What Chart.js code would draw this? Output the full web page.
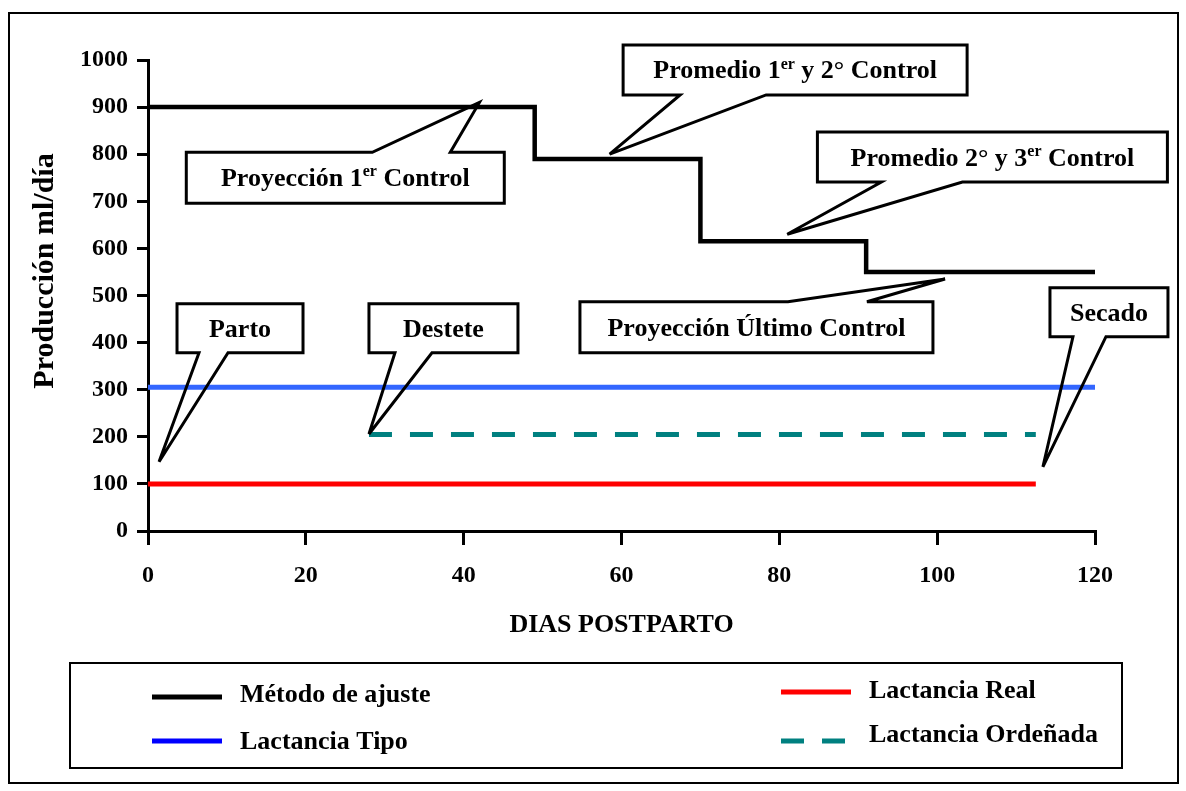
<!DOCTYPE html>
<html>
<head>
<meta charset="utf-8">
<script src="https://cdn.jsdelivr.net/npm/chart.js@4"></script>
<style>
    html, body { margin: 0; padding: 0; background: #fff; }
    canvas { display: block; }
</style>
</head>
<body>
<canvas id="lactancia" width="1186" height="791"></canvas>
<script>
// Método de ajuste (step line)
const metodoDias = [0, 49, 70, 91, 120];
const metodoMl = [900, 790, 615, 550, 550];

// Lactancia Tipo
const tipoDias = [0, 120];
const tipoMl = [305, 305];

// Lactancia Real
const realDias = [0, 112.5];
const realMl = [100, 100];

// Lactancia Ordeñada
const ordenadaDias = [28, 112.5];
const ordenadaMl = [205, 205];

const xTicks = [0, 20, 40, 60, 80, 100, 120];
const yTicks = [0, 100, 200, 300, 400, 500, 600, 700, 800, 900, 1000];

const FONT_FAMILY = '"Liberation Serif", "Times New Roman", serif';

// callouts: tip and box centre in data units, box size and tail bases in px
const callouts = [
    { text: [['Proyección 1'], ['er', true], [' Control']], tip: [42, 910], box: [25, 750], w: 318, h: 51, side: 'top', tail: [186, 264] },
    { text: [['Promedio 1'], ['er', true], [' y 2° Control']], tip: [58.5, 800], box: [82, 979], w: 344, h: 50, side: 'bottom', tail: [57, 143] },
    { text: [['Promedio 2° y 3'], ['er', true], [' Control']], tip: [81, 630], box: [107, 794], w: 350, h: 50, side: 'bottom', tail: [64, 145] },
    { text: [['Proyección Último Control']], tip: [101, 535], box: [77.1, 432.7], w: 353, h: 51, side: 'top', tail: [208, 287] },
    { text: [['Parto']], tip: [1.4, 147], box: [11.66, 430.5], w: 126, h: 49, side: 'bottom', tail: [22, 51] },
    { text: [['Destete']], tip: [28, 206], box: [37.44, 430.5], w: 149, h: 49, side: 'bottom', tail: [26, 63] },
    { text: [['Secado']], tip: [113.4, 136], box: [121.77, 464.5], w: 118, h: 49, side: 'bottom', tail: [23, 56] }
];

function toPoints (xs, ys) {
    return xs.map((x, i) => ({ x: x, y: ys[i] }));
}

function drawRuns (ctx, runs, cx, cy, size) {
    const base = `bold ${size}px ${FONT_FAMILY}`;
    const small = `bold ${Math.round(size * 0.6)}px ${FONT_FAMILY}`;

    let total = 0;
    runs.forEach(run => {
        ctx.font = run[1] ? small : base;
        total += ctx.measureText(run[0]).width;
    });

    let x = cx - total / 2;
    const y = cy + size * 0.33;
    ctx.textAlign = 'left';
    ctx.textBaseline = 'alphabetic';
    ctx.fillStyle = '#000';
    runs.forEach(run => {
        ctx.font = run[1] ? small : base;
        ctx.fillText(run[0], x, run[1] ? y - size * 0.38 : y);
        x += ctx.measureText(run[0]).width;
    });
}

const calloutPlugin = {
    id: 'callouts',
    afterDatasetsDraw (chart) {
        const ctx = chart.ctx;
        const xs = chart.scales.x;
        const ys = chart.scales.y;

        callouts.forEach(c => {
            const cx = xs.getPixelForValue(c.box[0]);
            const cy = ys.getPixelForValue(c.box[1]);
            const l = cx - c.w / 2;
            const r = cx + c.w / 2;
            const t = cy - c.h / 2;
            const b = cy + c.h / 2;
            const tx = xs.getPixelForValue(c.tip[0]);
            const ty = ys.getPixelForValue(c.tip[1]);
            const a1 = l + c.tail[0];
            const a2 = l + c.tail[1];

            ctx.save();
            ctx.fillStyle = '#fff';
            ctx.fillRect(l, t, c.w, c.h);

            ctx.beginPath();
            if (c.side === 'top') {
                ctx.moveTo(l, t);
                ctx.lineTo(a1, t);
                ctx.lineTo(tx, ty);
                ctx.lineTo(a2, t);
                ctx.lineTo(r, t);
                ctx.lineTo(r, b);
                ctx.lineTo(l, b);
            } else {
                ctx.moveTo(l, t);
                ctx.lineTo(r, t);
                ctx.lineTo(r, b);
                ctx.lineTo(a2, b);
                ctx.lineTo(tx, ty);
                ctx.lineTo(a1, b);
                ctx.lineTo(l, b);
            }
            ctx.closePath();
            ctx.lineWidth = 3;
            ctx.lineJoin = 'miter';
            ctx.miterLimit = 4;
            ctx.strokeStyle = '#000';
            ctx.stroke();

            drawRuns(ctx, c.text, cx, cy, 26);
            ctx.restore();
        });
    }
};

const framePlugin = {
    id: 'frame',
    beforeDraw (chart) {
        const ctx = chart.ctx;
        ctx.save();
        ctx.fillStyle = '#fff';
        ctx.fillRect(0, 0, chart.width, chart.height);
        ctx.lineWidth = 2;
        ctx.strokeStyle = '#000';
        ctx.strokeRect(9, 13, 1169, 770);
        ctx.restore();
    },
    afterDraw (chart) {
        const ctx = chart.ctx;
        ctx.save();

        // y axis title, sits a little above the middle of the axis in the original
        ctx.translate(45, 271);
        ctx.rotate(-Math.PI / 2);
        ctx.font = `bold 30px ${FONT_FAMILY}`;
        ctx.fillStyle = '#000';
        ctx.textAlign = 'center';
        ctx.textBaseline = 'middle';
        ctx.fillText('Producción ml/día', 0, 0);
        ctx.setTransform(1, 0, 0, 1, 0, 0);

        ctx.lineWidth = 2;
        ctx.strokeStyle = '#000';
        ctx.strokeRect(70, 663, 1052, 105);

        // legend entries: sample line and label, in dataset order
        const spots = [
            { lx: 152, ly: 697, tx: 240, ty: 695 },
            { lx: 152, ly: 741, tx: 240, ty: 742 },
            { lx: 781, ly: 692, tx: 869, ty: 691 },
            { lx: 781, ly: 741, tx: 869, ty: 735 }
        ];
        chart.data.datasets.forEach((ds, i) => {
            const s = spots[i];
            ctx.beginPath();
            ctx.setLineDash(ds.borderDash || []);
            ctx.lineWidth = 5;
            ctx.strokeStyle = ds.legendColor || ds.borderColor;
            ctx.moveTo(s.lx, s.ly);
            ctx.lineTo(s.lx + 70, s.ly);
            ctx.stroke();
            ctx.setLineDash([]);
            ctx.font = `bold 26px ${FONT_FAMILY}`;
            ctx.fillStyle = '#000';
            ctx.textAlign = 'left';
            ctx.textBaseline = 'middle';
            ctx.fillText(ds.label, s.tx, s.ty);
        });
        ctx.restore();
    }
};

const tickFont = { family: FONT_FAMILY, size: 24, weight: 'bold' };

new Chart(
    document.getElementById('lactancia'),
    {
        type: 'line',
        data: {
            datasets: [
                {
                    label: 'Método de ajuste',
                    data: toPoints(metodoDias, metodoMl),
                    borderColor: '#000',
                    borderWidth: 4.5,
                    stepped: true
                },
                {
                    label: 'Lactancia Tipo',
                    data: toPoints(tipoDias, tipoMl),
                    borderColor: '#3366ff',
                    legendColor: '#0000ff',
                    borderWidth: 5
                },
                {
                    label: 'Lactancia Real',
                    data: toPoints(realDias, realMl),
                    borderColor: '#ff0000',
                    borderWidth: 5
                },
                {
                    label: 'Lactancia Ordeñada',
                    data: toPoints(ordenadaDias, ordenadaMl),
                    borderColor: '#008080',
                    borderWidth: 5,
                    borderDash: [23, 18]
                }
            ]
        },
        options: {
            responsive: false,
            animation: false,
            events: [],
            elements: { point: { radius: 0 } },
            layout: { padding: { top: 60, right: 91, bottom: 150, left: 28 } },
            plugins: {
                legend: { display: false },
                tooltip: { enabled: false }
            },
            scales: {
                x: {
                    type: 'linear',
                    min: 0,
                    max: 120,
                    afterFit: (scale) => { scale.height = 110; },
                    afterBuildTicks: (scale) => { scale.ticks = xTicks.map(v => ({ value: v })); },
                    ticks: { color: '#000', font: tickFont, padding: 16, maxRotation: 0, callback: (v) => String(v) },
                    grid: { drawOnChartArea: false, color: '#000', lineWidth: 3, tickLength: 14 },
                    border: { color: '#000', width: 3 },
                    title: { display: true, text: 'DIAS POSTPARTO', color: '#000', font: { family: FONT_FAMILY, size: 26, weight: 'bold' }, padding: 0 }
                },
                y: {
                    min: 0,
                    max: 1000,
                    afterFit: (scale) => { scale.width = 120; },
                    afterBuildTicks: (scale) => { scale.ticks = yTicks.map(v => ({ value: v })); },
                    ticks: { color: '#000', font: tickFont, padding: 9, callback: (v) => String(v) },
                    grid: { drawOnChartArea: false, color: '#000', lineWidth: 3, tickLength: 11 },
                    border: { color: '#000', width: 3 }
                }
            }
        },
        plugins: [framePlugin, calloutPlugin]
    }
);
</script>
</body>
</html>
